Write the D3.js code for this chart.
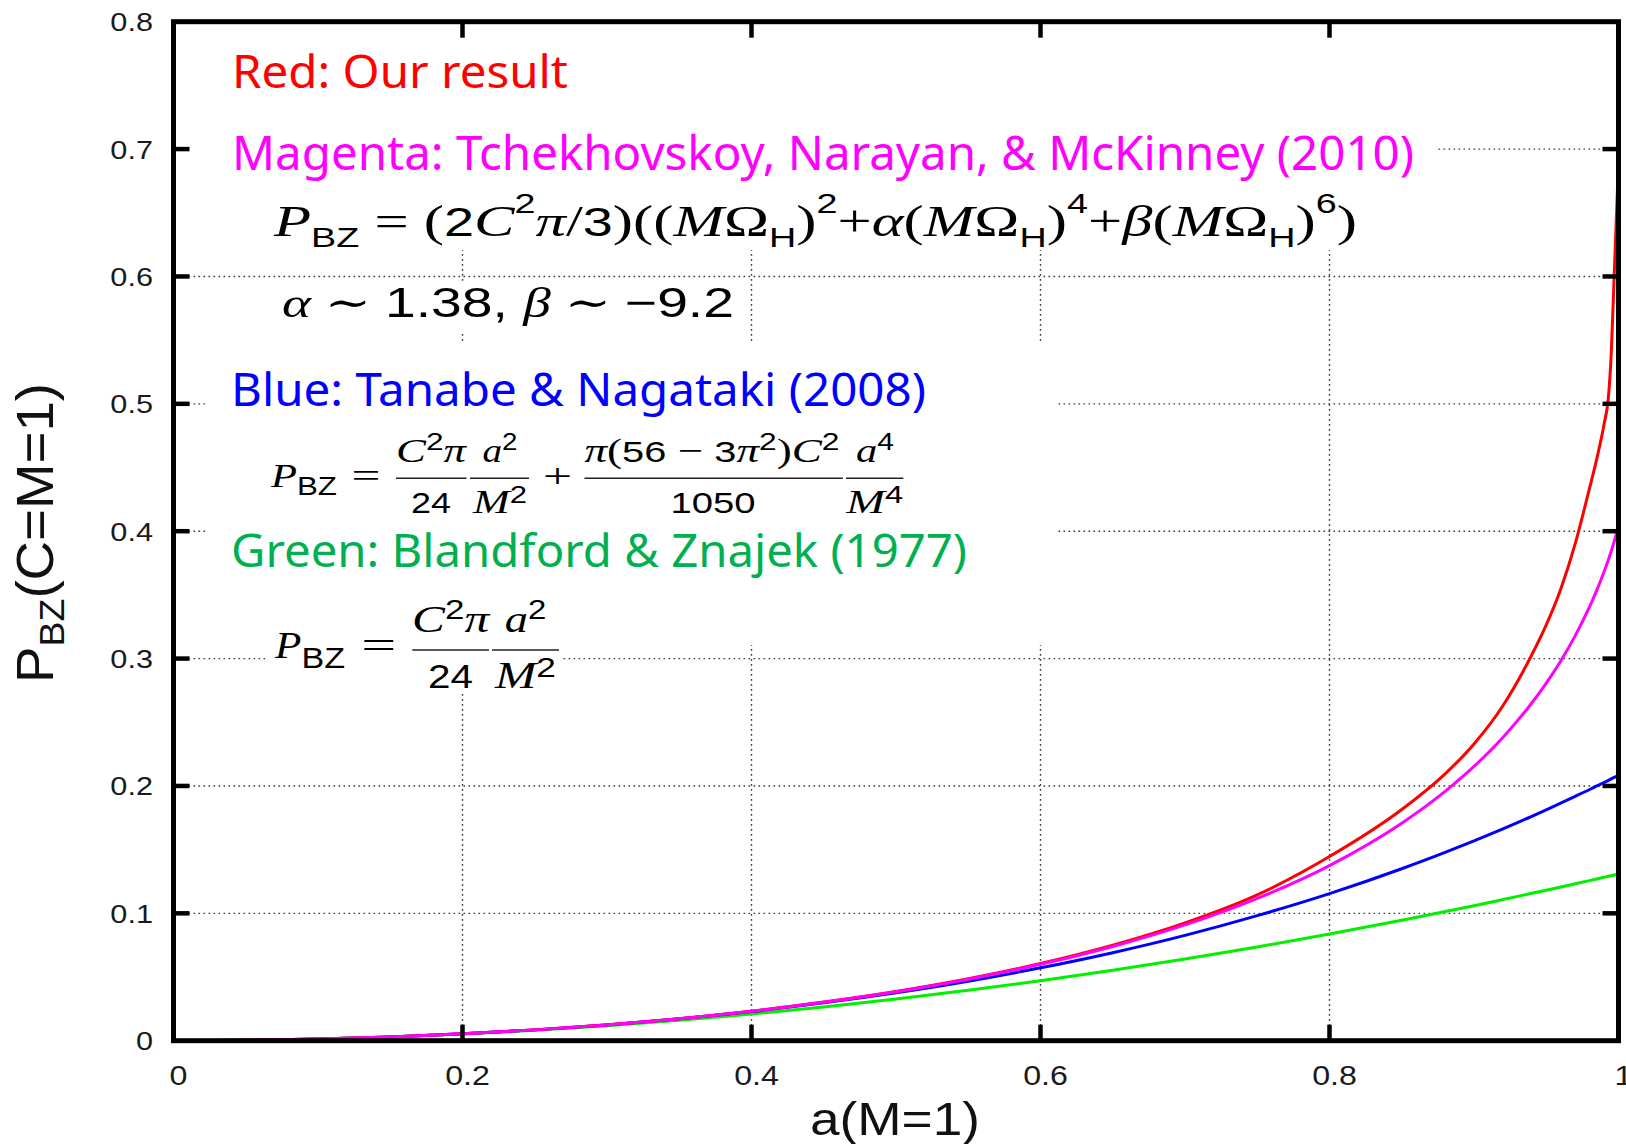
<!DOCTYPE html>
<html><head><meta charset="utf-8">
<script src="https://cdn.jsdelivr.net/npm/d3@7"></script>
<style>body{margin:0;background:#fff}svg{display:block}</style>
</head><body>
<svg id="c" width="1626" height="1144"></svg>
<script>
// ---------- data ----------
const spin = [0,0.05,0.1,0.15,0.2,0.25,0.3,0.35,0.4,0.45,0.5,0.55,0.6,0.65,0.7,0.75,0.8,0.85,0.88,0.9,0.92,0.94,0.95,0.96,0.97,0.98,0.985,0.99,0.993,0.995,0.997,0.998,0.999,1.0];
const redPBZ = [0,0.0003,0.0013,0.0030,0.0054,0.0085,0.0125,0.0173,0.0232,0.0303,0.0386,0.0486,0.0606,0.0750,0.0925,0.1145,0.1446,0.1815,0.2095,0.2330,0.2630,0.3030,0.3265,0.3545,0.3900,0.4340,0.4570,0.4840,0.5050,0.5400,0.6000,0.6300,0.6600,0.6900];
const magentaPBZ = [0,0.0003,0.0013,0.0030,0.0054,0.0085,0.0124,0.0173,0.0231,0.0301,0.0384,0.0483,0.0600,0.0740,0.0909,0.1117,0.1375,0.1707,0.1957,0.2153,0.2381,0.2651,0.2807,0.2981,0.3178,0.3407,0.3537,0.3681,0.3776,0.3845,0.3918,0.3956,0.3996,0.4032];
const bluePBZ = [0,0.0003,0.0013,0.0030,0.0054,0.0085,0.0124,0.0172,0.0229,0.0297,0.0376,0.0467,0.0572,0.0691,0.0827,0.0982,0.1155,0.1350,0.1478,0.1569,0.1663,0.1762,0.1813,0.1865,0.1918,0.1972,0.2000,0.2027,0.2044,0.2056,0.2067,0.2073,0.2078,0.2084];
const greenPBZ = [0,0.0003,0.0013,0.0029,0.0052,0.0082,0.0118,0.0160,0.0209,0.0265,0.0327,0.0396,0.0471,0.0553,0.0641,0.0736,0.0838,0.0946,0.1014,0.1060,0.1108,0.1157,0.1181,0.1206,0.1232,0.1257,0.1270,0.1283,0.1291,0.1296,0.1301,0.1304,0.1306,0.1309];
const xTicks = [0,0.2,0.4,0.6,0.8,1];
const xTickLabels = ["0","0.2","0.4","0.6","0.8","1"];
const yTicks = [0,0.1,0.2,0.3,0.4,0.5,0.6,0.7,0.8];
const yTickLabels = ["0","0.1","0.2","0.3","0.4","0.5","0.6","0.7","0.8"];
const xTitle = "a(M=1)";
const legendLines = [
  {text:"Red: Our result", color:"#ff0000"},
  {text:"Magenta: Tchekhovskoy, Narayan, & McKinney (2010)", color:"#ff00ff"},
  {text:"Blue: Tanabe & Nagataki (2008)", color:"#0000ff"},
  {text:"Green: Blandford & Znajek (1977)", color:"#00b050"}
];

// ---------- layout ----------
const svg = d3.select('#c');
const X0 = 173.5, X1 = 1618.5, Y0 = 1040.7, Y1 = 21.7;
const x = d3.scaleLinear().domain([0,1]).range([X0,X1]);
const y = d3.scaleLinear().domain([0,0.8]).range([Y0,Y1]);

svg.append('defs').append('clipPath').attr('id','pc')
  .append('rect').attr('x',X0).attr('y',Y1).attr('width',X1-X0).attr('height',Y0-Y1);

// grid
const grid = svg.append('g').attr('stroke','#3a3a3a').attr('stroke-width',1.4).attr('stroke-dasharray','1.6,3.4');
xTicks.filter(v=>v>0 && v<1).forEach(v=>{
  grid.append('line').attr('x1',x(v)).attr('x2',x(v)).attr('y1',Y0).attr('y2',Y1);
});
yTicks.filter(v=>v>0 && v<0.8).forEach(v=>{
  grid.append('line').attr('x1',X0).attr('x2',X1).attr('y1',y(v)).attr('y2',y(v));
});

// white boxes behind the pasted text
const masks = svg.append('g').attr('fill','#fff');
[[177,25,1435,250],[276,281,740,333],[208,342,1056,645],[268,600,562,693]].forEach(r=>{
  masks.append('rect').attr('x',r[0]).attr('y',r[1]).attr('width',r[2]-r[0]).attr('height',r[3]-r[1]);
});

// curves
const series = [
  {v:greenPBZ, c:'#00f000'},
  {v:bluePBZ, c:'#0000ff'},
  {v:redPBZ, c:'#ff0000'},
  {v:magentaPBZ, c:'#ff00ff'}
];
const line = d3.line().x((d,i)=>x(spin[i])).y(d=>y(d)).curve(d3.curveMonotoneX);
const cg = svg.append('g').attr('clip-path','url(#pc)');
series.forEach(s=>{
  cg.append('path').datum(s.v).attr('d',line).attr('fill','none')
    .attr('stroke',s.c).attr('stroke-width',3).attr('stroke-linejoin','round');
});

// frame and ticks
svg.append('rect').attr('x',X0).attr('y',Y1).attr('width',X1-X0).attr('height',Y0-Y1)
  .attr('fill','none').attr('stroke','#000').attr('stroke-width',5);
const tk = svg.append('g').attr('stroke','#000').attr('stroke-width',4.5);
const TL = 16;
xTicks.filter(v=>v>0 && v<1).forEach(v=>{
  tk.append('line').attr('x1',x(v)).attr('x2',x(v)).attr('y1',Y0).attr('y2',Y0-TL);
  tk.append('line').attr('x1',x(v)).attr('x2',x(v)).attr('y1',Y1).attr('y2',Y1+TL);
});
yTicks.filter(v=>v>0 && v<0.8).forEach(v=>{
  tk.append('line').attr('x1',X0).attr('x2',X0+TL).attr('y1',y(v)).attr('y2',y(v));
  tk.append('line').attr('x1',X1).attr('x2',X1-TL).attr('y1',y(v)).attr('y2',y(v));
});

// tick labels
const SANS = "'Liberation Sans',Arial,sans-serif";
yTicks.forEach((v,i)=>{
  svg.append('text').attr('transform',`translate(153,${y(v)+9.5}) scale(1.18,1)`)
    .attr('text-anchor','end').attr('font-family',SANS).attr('font-size',26).attr('fill','#1a1a1a')
    .text(yTickLabels[i]);
});
xTicks.forEach((v,i)=>{
  svg.append('text').attr('transform',`translate(${x(v)+5},1085) scale(1.15,1)`)
    .attr('text-anchor','middle').attr('font-family',SANS).attr('font-size',28).attr('fill','#1a1a1a')
    .text(xTickLabels[i]);
});

// axis titles
svg.append('text').attr('x',810).attr('y',1135).attr('font-family',SANS).attr('font-size',46)
  .attr('fill','#111').attr('textLength',170).attr('lengthAdjust','spacingAndGlyphs').text(xTitle);
const yt = svg.append('g').attr('transform','translate(53,533) rotate(-90)')
  .append('text').attr('x',-150).attr('y',0).attr('font-family',SANS).attr('fill','#111')
  .attr('textLength',300).attr('lengthAdjust','spacingAndGlyphs');
yt.append('tspan').attr('y',0).attr('font-size',51).text('P');
yt.append('tspan').attr('y',11).attr('font-size',35).text('BZ');
yt.append('tspan').attr('y',0).attr('font-size',51).text('(C=M=1)');

// legend texts
const NOTO = "'Noto Sans','Open Sans',sans-serif";
const legPos = [[232,88.3,336,46],[232,170,1182,47],[231,406,695,46],[231,566.7,736,46]];
legendLines.forEach((l,i)=>{
  const p = legPos[i];
  svg.append('text').attr('x',p[0]).attr('y',p[1]).attr('font-family',NOTO).attr('font-size',p[3])
    .attr('fill',l.color).attr('textLength',p[2]).attr('lengthAdjust','spacingAndGlyphs').text(l.text);
});

// math formulas
const FF = {i:"'Liberation Serif','DejaVu Serif',serif", r:"'Liberation Serif','DejaVu Serif',serif", s:SANS};
const NB = '\u00A0';
function piece(x0, y0, runs, len, centered){
  const sx = centered ? x0 - len/2 : x0;
  const t = svg.append('text').attr('x',sx).attr('y',y0).attr('fill','#000');
  runs.forEach(r=>{
    const [txt, kind, size, shift] = r;
    t.append('tspan').attr('y', y0+(shift||0)).attr('font-family',FF[kind])
      .attr('font-style', kind==='i'?'italic':'normal').attr('font-size',size).text(txt);
  });
  if(len) t.attr('textLength',len).attr('lengthAdjust','spacingAndGlyphs');
  return t;
}
function bar(x1,x2,yy){
  svg.append('line').attr('x1',x1).attr('x2',x2).attr('y1',yy).attr('y2',yy)
    .attr('stroke','#222').attr('stroke-width',1.6);
}

// Magenta formula
const B=45, S=28, SUP=-23, SUB=10.7;
piece(274,236,[
  ['P','i',B],['BZ','s',S,SUB],[NB+'=','r',B],[NB+'(','r',B],['2','s',40],['C','i',B],['2','s',S,SUP],['π','i',B],['/','r',B],['3','s',40],[')((','r',B],
  ['M','i',B],['Ω','r',B],['H','s',S,SUB],[')','r',B],['2','s',S,SUP],['+','r',B],['α','i',B],['(','r',B],
  ['M','i',B],['Ω','r',B],['H','s',S,SUB],[')','r',B],['4','s',S,SUP],['+','r',B],['β','i',B],['(','r',B],
  ['M','i',B],['Ω','r',B],['H','s',S,SUB],[')','r',B],['6','s',S,SUP],[')','r',B]
],1083,false);
piece(282,317,[['α','i',42],[NB+'∼'+NB,'r',42],['1.38,'+NB,'s',42],['β','i',42],[NB+'∼'+NB,'r',42],['−9.2','s',42]],452,false);

// Blue formula
piece(271,486.7,[['P','i',34],['BZ','s',25,8.5]],66,false);
piece(366,487,[['=','r',34]],29,true);
piece(431,461.7,[['C','i',34],['2','s',24,-12],['π','i',34]],70,true);
piece(431,513.3,[['24','s',30]],40,true);
bar(396,466.5,478.3);
piece(500,461.7,[['a','i',34],['2','s',24,-12]],35,true);
piece(500,513.3,[['M','i',34],['2','s',24,-10]],54,true);
bar(470,529,478.3);
piece(557.5,487,[['+','r',34]],29,true);
piece(712,461.7,[['π','i',34],['(','r',34],['56','s',30],[NB+'−'+NB,'r',34],['3','s',30],['π','i',34],['2','s',24,-12],[')','r',34],['C','i',34],['2','s',24,-12]],255,true);
piece(713,513.3,[['1050','s',30]],85,true);
bar(584.5,842.8,478.3);
piece(875,461.7,[['a','i',34],['4','s',24,-12]],38,true);
piece(874.7,513.3,[['M','i',34],['4','s',24,-10]],57,true);
bar(846,903.4,478.3);

// Green formula
piece(275,658,[['P','i',38],['BZ','s',30,10]],70,false);
piece(378.8,658,[['=','r',38]],35,true);
piece(450.6,631.7,[['C','i',38],['2','s',27,-13],['π','i',38]],77,true);
piece(450.6,688.3,[['24','s',33]],45,true);
bar(412.3,489,650);
piece(525.5,631.7,[['a','i',38],['2','s',27,-13]],41.5,true);
piece(525.5,688.3,[['M','i',38],['2','s',27,-11]],61,true);
bar(492,559,650);
</script>
</body></html>
